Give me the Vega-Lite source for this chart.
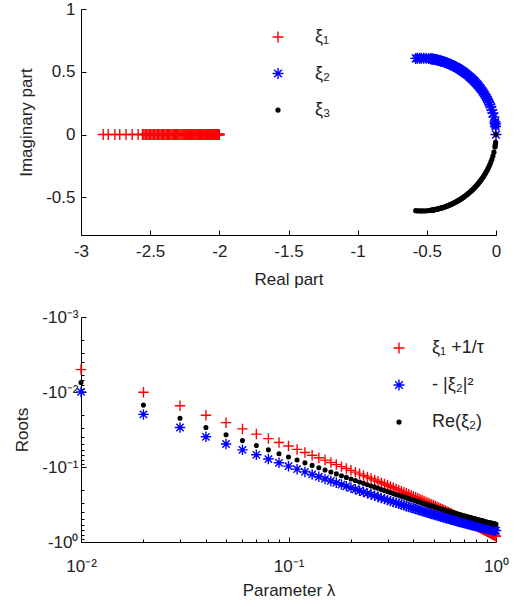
{
"$schema": "https://vega.github.io/schema/vega-lite/v6.json",
"background": "white",
"padding": {"left": 13, "right": 5, "top": 0, "bottom": 5},
"spacing": 21,
"resolve": {"scale": {"fill": "independent", "stroke": "independent", "shape": "independent"}},
"config": {
  "view": {"stroke": null},
  "font": "Liberation Sans",
  "axis": {"grid": false, "labelFlush": false, "domainColor": "#000000", "tickColor": "#000000", "labelColor": "#222222", "titleColor": "#222222", "labelFont": "Liberation Sans", "titleFont": "Liberation Sans", "labelFontSize": 17, "titleFontSize": 17, "titleFontWeight": "normal", "domainWidth": 1, "tickWidth": 1},
  "legend": {"labelFont": "Liberation Sans", "labelFontSize": 18, "labelColor": "#222222", "padding": 0, "symbolStrokeWidth": 1.4, "symbolSize": 121, "rowPadding": 18.5, "labelOffset": 28}
},
"vconcat": [
{
  "width": 415, "height": 226,
  "data": {"values": [
{"s":"ξ₁","x":-2,"y":0},{"s":"ξ₂","x":0,"y":0},{"s":"ξ₃","x":0,"y":0},
{"s":"ξ₁","x":-2.002,"y":0},{"s":"ξ₂","x":-0.003,"y":0.0631},{"s":"ξ₃","x":-0.003,"y":-0.0631},
{"s":"ξ₁","x":-2.003,"y":0},{"s":"ξ₂","x":-0.0045,"y":0.0773},{"s":"ξ₃","x":-0.0045,"y":-0.0773},
{"s":"ξ₁","x":-2.004,"y":0},{"s":"ξ₂","x":-0.006,"y":0.0892},{"s":"ξ₃","x":-0.006,"y":-0.0892},
{"s":"ξ₁","x":-2.005,"y":0},{"s":"ξ₂","x":-0.0075,"y":0.0996},{"s":"ξ₃","x":-0.0075,"y":-0.0996},
{"s":"ξ₁","x":-2.0101,"y":0},{"s":"ξ₂","x":-0.015,"y":0.1403},{"s":"ξ₃","x":-0.015,"y":-0.1403},
{"s":"ξ₁","x":-2.0152,"y":0},{"s":"ξ₂","x":-0.0224,"y":0.1711},{"s":"ξ₃","x":-0.0224,"y":-0.1711},
{"s":"ξ₁","x":-2.0204,"y":0},{"s":"ξ₂","x":-0.0298,"y":0.1967},{"s":"ξ₃","x":-0.0298,"y":-0.1967},
{"s":"ξ₁","x":-2.0256,"y":0},{"s":"ξ₂","x":-0.0372,"y":0.2191},{"s":"ξ₃","x":-0.0372,"y":-0.2191},
{"s":"ξ₁","x":-2.031,"y":0},{"s":"ξ₂","x":-0.0445,"y":0.239},{"s":"ξ₃","x":-0.0445,"y":-0.239},
{"s":"ξ₁","x":-2.0364,"y":0},{"s":"ξ₂","x":-0.0518,"y":0.257},{"s":"ξ₃","x":-0.0518,"y":-0.257},
{"s":"ξ₁","x":-2.0418,"y":0},{"s":"ξ₂","x":-0.0591,"y":0.2736},{"s":"ξ₃","x":-0.0591,"y":-0.2736},
{"s":"ξ₁","x":-2.0472,"y":0},{"s":"ξ₂","x":-0.0664,"y":0.289},{"s":"ξ₃","x":-0.0664,"y":-0.289},
{"s":"ξ₁","x":-2.0526,"y":0},{"s":"ξ₂","x":-0.0737,"y":0.3033},{"s":"ξ₃","x":-0.0737,"y":-0.3033},
{"s":"ξ₁","x":-2.0583,"y":0},{"s":"ξ₂","x":-0.0809,"y":0.3168},{"s":"ξ₃","x":-0.0809,"y":-0.3168},
{"s":"ξ₁","x":-2.0639,"y":0},{"s":"ξ₂","x":-0.088,"y":0.3294},{"s":"ξ₃","x":-0.088,"y":-0.3294},
{"s":"ξ₁","x":-2.0696,"y":0},{"s":"ξ₂","x":-0.0952,"y":0.3414},{"s":"ξ₃","x":-0.0952,"y":-0.3414},
{"s":"ξ₁","x":-2.0753,"y":0},{"s":"ξ₂","x":-0.1024,"y":0.3528},{"s":"ξ₃","x":-0.1024,"y":-0.3528},
{"s":"ξ₁","x":-2.081,"y":0},{"s":"ξ₂","x":-0.1095,"y":0.3636},{"s":"ξ₃","x":-0.1095,"y":-0.3636},
{"s":"ξ₁","x":-2.0869,"y":0},{"s":"ξ₂","x":-0.1165,"y":0.3738},{"s":"ξ₃","x":-0.1165,"y":-0.3738},
{"s":"ξ₁","x":-2.0929,"y":0},{"s":"ξ₂","x":-0.1236,"y":0.3837},{"s":"ξ₃","x":-0.1236,"y":-0.3837},
{"s":"ξ₁","x":-2.0988,"y":0},{"s":"ξ₂","x":-0.1306,"y":0.393},{"s":"ξ₃","x":-0.1306,"y":-0.393},
{"s":"ξ₁","x":-2.1048,"y":0},{"s":"ξ₂","x":-0.1376,"y":0.402},{"s":"ξ₃","x":-0.1376,"y":-0.402},
{"s":"ξ₁","x":-2.1108,"y":0},{"s":"ξ₂","x":-0.1446,"y":0.4106},{"s":"ξ₃","x":-0.1446,"y":-0.4106},
{"s":"ξ₁","x":-2.117,"y":0},{"s":"ξ₂","x":-0.1515,"y":0.4189},{"s":"ξ₃","x":-0.1515,"y":-0.4189},
{"s":"ξ₁","x":-2.1233,"y":0},{"s":"ξ₂","x":-0.1583,"y":0.4268},{"s":"ξ₃","x":-0.1583,"y":-0.4268},
{"s":"ξ₁","x":-2.1296,"y":0},{"s":"ξ₂","x":-0.1652,"y":0.4344},{"s":"ξ₃","x":-0.1652,"y":-0.4344},
{"s":"ξ₁","x":-2.1359,"y":0},{"s":"ξ₂","x":-0.1721,"y":0.4417},{"s":"ξ₃","x":-0.1721,"y":-0.4417},
{"s":"ξ₁","x":-2.1421,"y":0},{"s":"ξ₂","x":-0.1789,"y":0.4488},{"s":"ξ₃","x":-0.1789,"y":-0.4488},
{"s":"ξ₁","x":-2.1487,"y":0},{"s":"ξ₂","x":-0.1856,"y":0.4556},{"s":"ξ₃","x":-0.1856,"y":-0.4556},
{"s":"ξ₁","x":-2.1553,"y":0},{"s":"ξ₂","x":-0.1923,"y":0.4621},{"s":"ξ₃","x":-0.1923,"y":-0.4621},
{"s":"ξ₁","x":-2.1619,"y":0},{"s":"ξ₂","x":-0.199,"y":0.4684},{"s":"ξ₃","x":-0.199,"y":-0.4684},
{"s":"ξ₁","x":-2.1685,"y":0},{"s":"ξ₂","x":-0.2057,"y":0.4745},{"s":"ξ₃","x":-0.2057,"y":-0.4745},
{"s":"ξ₁","x":-2.1751,"y":0},{"s":"ξ₂","x":-0.2124,"y":0.4803},{"s":"ξ₃","x":-0.2124,"y":-0.4803},
{"s":"ξ₁","x":-2.1821,"y":0},{"s":"ξ₂","x":-0.219,"y":0.486},{"s":"ξ₃","x":-0.219,"y":-0.486},
{"s":"ξ₁","x":-2.189,"y":0},{"s":"ξ₂","x":-0.2255,"y":0.4915},{"s":"ξ₃","x":-0.2255,"y":-0.4915},
{"s":"ξ₁","x":-2.1959,"y":0},{"s":"ξ₂","x":-0.232,"y":0.4967},{"s":"ξ₃","x":-0.232,"y":-0.4967},
{"s":"ξ₁","x":-2.2029,"y":0},{"s":"ξ₂","x":-0.2386,"y":0.5018},{"s":"ξ₃","x":-0.2386,"y":-0.5018},
{"s":"ξ₁","x":-2.2098,"y":0},{"s":"ξ₂","x":-0.2451,"y":0.5067},{"s":"ξ₃","x":-0.2451,"y":-0.5067},
{"s":"ξ₁","x":-2.2171,"y":0},{"s":"ξ₂","x":-0.2515,"y":0.5114},{"s":"ξ₃","x":-0.2515,"y":-0.5114},
{"s":"ξ₁","x":-2.2244,"y":0},{"s":"ξ₂","x":-0.2578,"y":0.516},{"s":"ξ₃","x":-0.2578,"y":-0.516},
{"s":"ξ₁","x":-2.2317,"y":0},{"s":"ξ₂","x":-0.2642,"y":0.5204},{"s":"ξ₃","x":-0.2642,"y":-0.5204},
{"s":"ξ₁","x":-2.239,"y":0},{"s":"ξ₂","x":-0.2705,"y":0.5246},{"s":"ξ₃","x":-0.2705,"y":-0.5246},
{"s":"ξ₁","x":-2.2462,"y":0},{"s":"ξ₂","x":-0.2769,"y":0.5287},{"s":"ξ₃","x":-0.2769,"y":-0.5287},
{"s":"ξ₁","x":-2.2539,"y":0},{"s":"ξ₂","x":-0.2831,"y":0.5326},{"s":"ξ₃","x":-0.2831,"y":-0.5326},
{"s":"ξ₁","x":-2.2616,"y":0},{"s":"ξ₂","x":-0.2892,"y":0.5365},{"s":"ξ₃","x":-0.2892,"y":-0.5365},
{"s":"ξ₁","x":-2.2692,"y":0},{"s":"ξ₂","x":-0.2954,"y":0.5401},{"s":"ξ₃","x":-0.2954,"y":-0.5401},
{"s":"ξ₁","x":-2.2769,"y":0},{"s":"ξ₂","x":-0.3016,"y":0.5437},{"s":"ξ₃","x":-0.3016,"y":-0.5437},
{"s":"ξ₁","x":-2.2845,"y":0},{"s":"ξ₂","x":-0.3077,"y":0.547},{"s":"ξ₃","x":-0.3077,"y":-0.547},
{"s":"ξ₁","x":-2.2926,"y":0},{"s":"ξ₂","x":-0.3137,"y":0.5503},{"s":"ξ₃","x":-0.3137,"y":-0.5503},
{"s":"ξ₁","x":-2.3006,"y":0},{"s":"ξ₂","x":-0.3197,"y":0.5535},{"s":"ξ₃","x":-0.3197,"y":-0.5535},
{"s":"ξ₁","x":-2.3086,"y":0},{"s":"ξ₂","x":-0.3257,"y":0.5566},{"s":"ξ₃","x":-0.3257,"y":-0.5566},
{"s":"ξ₁","x":-2.3167,"y":0},{"s":"ξ₂","x":-0.3317,"y":0.5595},{"s":"ξ₃","x":-0.3317,"y":-0.5595},
{"s":"ξ₁","x":-2.3247,"y":0},{"s":"ξ₂","x":-0.3377,"y":0.5623},{"s":"ξ₃","x":-0.3377,"y":-0.5623},
{"s":"ξ₁","x":-2.3331,"y":0},{"s":"ξ₂","x":-0.3434,"y":0.565},{"s":"ξ₃","x":-0.3434,"y":-0.565},
{"s":"ξ₁","x":-2.3415,"y":0},{"s":"ξ₂","x":-0.3492,"y":0.5676},{"s":"ξ₃","x":-0.3492,"y":-0.5676},
{"s":"ξ₁","x":-2.35,"y":0},{"s":"ξ₂","x":-0.355,"y":0.5701},{"s":"ξ₃","x":-0.355,"y":-0.5701},
{"s":"ξ₁","x":-2.3584,"y":0},{"s":"ξ₂","x":-0.3608,"y":0.5725},{"s":"ξ₃","x":-0.3608,"y":-0.5725},
{"s":"ξ₁","x":-2.3668,"y":0},{"s":"ξ₂","x":-0.3666,"y":0.5748},{"s":"ξ₃","x":-0.3666,"y":-0.5748},
{"s":"ξ₁","x":-2.3757,"y":0},{"s":"ξ₂","x":-0.3722,"y":0.577},{"s":"ξ₃","x":-0.3722,"y":-0.577},
{"s":"ξ₁","x":-2.3845,"y":0},{"s":"ξ₂","x":-0.3778,"y":0.5791},{"s":"ξ₃","x":-0.3778,"y":-0.5791},
{"s":"ξ₁","x":-2.3933,"y":0},{"s":"ξ₂","x":-0.3834,"y":0.5812},{"s":"ξ₃","x":-0.3834,"y":-0.5812},
{"s":"ξ₁","x":-2.4021,"y":0},{"s":"ξ₂","x":-0.3889,"y":0.5831},{"s":"ξ₃","x":-0.3889,"y":-0.5831},
{"s":"ξ₁","x":-2.411,"y":0},{"s":"ξ₂","x":-0.3945,"y":0.5849},{"s":"ξ₃","x":-0.3945,"y":-0.5849},
{"s":"ξ₁","x":-2.4202,"y":0},{"s":"ξ₂","x":-0.3999,"y":0.5867},{"s":"ξ₃","x":-0.3999,"y":-0.5867},
{"s":"ξ₁","x":-2.4295,"y":0},{"s":"ξ₂","x":-0.4053,"y":0.5884},{"s":"ξ₃","x":-0.4053,"y":-0.5884},
{"s":"ξ₁","x":-2.4387,"y":0},{"s":"ξ₂","x":-0.4107,"y":0.5899},{"s":"ξ₃","x":-0.4107,"y":-0.5899},
{"s":"ξ₁","x":-2.4479,"y":0},{"s":"ξ₂","x":-0.416,"y":0.5915},{"s":"ξ₃","x":-0.416,"y":-0.5915},
{"s":"ξ₁","x":-2.4572,"y":0},{"s":"ξ₂","x":-0.4214,"y":0.5929},{"s":"ξ₃","x":-0.4214,"y":-0.5929},
{"s":"ξ₁","x":-2.4668,"y":0},{"s":"ξ₂","x":-0.4266,"y":0.5943},{"s":"ξ₃","x":-0.4266,"y":-0.5943},
{"s":"ξ₁","x":-2.4765,"y":0},{"s":"ξ₂","x":-0.4318,"y":0.5956},{"s":"ξ₃","x":-0.4318,"y":-0.5956},
{"s":"ξ₁","x":-2.4862,"y":0},{"s":"ξ₂","x":-0.4369,"y":0.5968},{"s":"ξ₃","x":-0.4369,"y":-0.5968},
{"s":"ξ₁","x":-2.4958,"y":0},{"s":"ξ₂","x":-0.4421,"y":0.5979},{"s":"ξ₃","x":-0.4421,"y":-0.5979},
{"s":"ξ₁","x":-2.5055,"y":0},{"s":"ξ₂","x":-0.4473,"y":0.5989},{"s":"ξ₃","x":-0.4473,"y":-0.5989},
{"s":"ξ₁","x":-2.5155,"y":0},{"s":"ξ₂","x":-0.4522,"y":0.6},{"s":"ξ₃","x":-0.4522,"y":-0.6},
{"s":"ξ₁","x":-2.5256,"y":0},{"s":"ξ₂","x":-0.4572,"y":0.6009},{"s":"ξ₃","x":-0.4572,"y":-0.6009},
{"s":"ξ₁","x":-2.5357,"y":0},{"s":"ξ₂","x":-0.4622,"y":0.6018},{"s":"ξ₃","x":-0.4622,"y":-0.6018},
{"s":"ξ₁","x":-2.5457,"y":0},{"s":"ξ₂","x":-0.4671,"y":0.6026},{"s":"ξ₃","x":-0.4671,"y":-0.6026},
{"s":"ξ₁","x":-2.5558,"y":0},{"s":"ξ₂","x":-0.4721,"y":0.6033},{"s":"ξ₃","x":-0.4721,"y":-0.6033},
{"s":"ξ₁","x":-2.5873,"y":0},{"s":"ξ₂","x":-0.4864,"y":0.6053},{"s":"ξ₃","x":-0.4864,"y":-0.6053},
{"s":"ξ₁","x":-2.6301,"y":0},{"s":"ξ₂","x":-0.5049,"y":0.6071},{"s":"ξ₃","x":-0.5049,"y":-0.6071},
{"s":"ξ₁","x":-2.6743,"y":0},{"s":"ξ₂","x":-0.5228,"y":0.6081},{"s":"ξ₃","x":-0.5228,"y":-0.6081},
{"s":"ξ₁","x":-2.7198,"y":0},{"s":"ξ₂","x":-0.5401,"y":0.6084},{"s":"ξ₃","x":-0.5401,"y":-0.6084},
{"s":"ξ₁","x":-2.7551,"y":0},{"s":"ξ₂","x":-0.5525,"y":0.6082},{"s":"ξ₃","x":-0.5525,"y":-0.6082},
{"s":"ξ₁","x":-2.803,"y":0},{"s":"ξ₂","x":-0.5685,"y":0.6074},{"s":"ξ₃","x":-0.5685,"y":-0.6074},
{"s":"ξ₁","x":-2.8395,"y":0},{"s":"ξ₂","x":-0.5803,"y":0.6064},{"s":"ξ₃","x":-0.5803,"y":-0.6064}
  ]},
  "mark": {"type": "point", "filled": true, "size": 121, "strokeWidth": 1.4, "opacity": 1},
  "encoding": {
    "x": {"field": "x", "type": "quantitative", "scale": {"domain": [-3, 0], "nice": false, "zero": false},
      "axis": {"title": "Real part", "values": [-3, -2.5, -2, -1.5, -1, -0.5, 0], "labelExpr": "'' + datum.value", "tickSize": -5, "labelPadding": 13, "titlePadding": 12}},
    "y": {"field": "y", "type": "quantitative", "scale": {"domain": [-0.8, 1], "nice": false, "zero": false},
      "axis": {"title": "Imaginary part", "values": [-0.5, 0, 0.5, 1], "labelExpr": "'' + datum.value", "tickSize": -5, "labelPadding": 11, "titlePadding": 10}},
    "fill": {"field": "s", "type": "nominal", "scale": {"domain": ["ξ₁", "ξ₂", "ξ₃"], "range": ["#ff0000", "#0000ff", "#000000"]},
      "legend": {"title": null, "orient": "none", "legendX": 188, "legendY": 19}},
    "stroke": {"field": "s", "type": "nominal", "scale": {"domain": ["ξ₁", "ξ₂", "ξ₃"], "range": ["#ff0000", "#0000ff", "#000000"]},
      "legend": {"title": null, "orient": "none", "legendX": 188, "legendY": 19}},
    "shape": {"field": "s", "type": "nominal", "scale": {"domain": ["ξ₁", "ξ₂", "ξ₃"], "range": ["M-1,0H1M0,-1V1", "M-1,0H1M0,-1V1M-0.7,-0.7L0.7,0.7M-0.7,0.7L0.7,-0.7", "M-0.35,0A0.35,0.35 0 1,0 0.35,0A0.35,0.35 0 1,0 -0.35,0Z"]},
      "legend": {"title": null, "orient": "none", "legendX": 188, "legendY": 19}}
  }
},
{
  "width": 415, "height": 225,
  "data": {"values": [
{"l":0.01,"a":-0.005025,"b":-0.009975,"c":-0.007488},
{"l":0.02,"a":-0.010099,"b":-0.0199,"c":-0.01495},
{"l":0.03,"a":-0.015222,"b":-0.029773,"c":-0.022389},
{"l":0.04,"a":-0.020395,"b":-0.039596,"c":-0.029802},
{"l":0.05,"a":-0.02564,"b":-0.049367,"c":-0.03718},
{"l":0.06,"a":-0.03103,"b":-0.059083,"c":-0.044485},
{"l":0.07,"a":-0.03642,"b":-0.068748,"c":-0.05179},
{"l":0.08,"a":-0.04182,"b":-0.078361,"c":-0.05909},
{"l":0.09,"a":-0.04721,"b":-0.087925,"c":-0.066395},
{"l":0.1,"a":-0.0526,"b":-0.097437,"c":-0.0737},
{"l":0.11,"a":-0.05827,"b":-0.106886,"c":-0.080865},
{"l":0.12,"a":-0.06394,"b":-0.116282,"c":-0.08803},
{"l":0.13,"a":-0.06961,"b":-0.125628,"c":-0.095195},
{"l":0.14,"a":-0.07528,"b":-0.134922,"c":-0.10236},
{"l":0.15,"a":-0.08095,"b":-0.144165,"c":-0.109525},
{"l":0.16,"a":-0.08691,"b":-0.153337,"c":-0.116545},
{"l":0.17,"a":-0.09288,"b":-0.162456,"c":-0.12356},
{"l":0.18,"a":-0.09884,"b":-0.171523,"c":-0.13058},
{"l":0.19,"a":-0.10481,"b":-0.180539,"c":-0.137595},
{"l":0.2,"a":-0.11077,"b":-0.189504,"c":-0.144615},
{"l":0.21,"a":-0.11704,"b":-0.19839,"c":-0.15148},
{"l":0.22,"a":-0.12332,"b":-0.207223,"c":-0.15834},
{"l":0.23,"a":-0.12959,"b":-0.216004,"c":-0.165205},
{"l":0.24,"a":-0.13587,"b":-0.224733,"c":-0.172065},
{"l":0.25,"a":-0.14214,"b":-0.233412,"c":-0.17893},
{"l":0.26,"a":-0.14874,"b":-0.242002,"c":-0.18563},
{"l":0.27,"a":-0.15533,"b":-0.250542,"c":-0.192335},
{"l":0.28,"a":-0.16193,"b":-0.259028,"c":-0.199035},
{"l":0.29,"a":-0.16852,"b":-0.267463,"c":-0.20574},
{"l":0.3,"a":-0.17512,"b":-0.275847,"c":-0.21244},
{"l":0.31,"a":-0.18206,"b":-0.284135,"c":-0.21897},
{"l":0.32,"a":-0.18899,"b":-0.292372,"c":-0.225505},
{"l":0.33,"a":-0.19593,"b":-0.300556,"c":-0.232035},
{"l":0.34,"a":-0.20286,"b":-0.30869,"c":-0.23857},
{"l":0.35,"a":-0.2098,"b":-0.316771,"c":-0.2451},
{"l":0.36,"a":-0.21709,"b":-0.32475,"c":-0.251455},
{"l":0.37,"a":-0.22438,"b":-0.332677,"c":-0.25781},
{"l":0.38,"a":-0.23166,"b":-0.340554,"c":-0.26417},
{"l":0.39,"a":-0.23895,"b":-0.348378,"c":-0.270525},
{"l":0.4,"a":-0.24624,"b":-0.356151,"c":-0.27688},
{"l":0.41,"a":-0.25389,"b":-0.363815,"c":-0.283055},
{"l":0.42,"a":-0.26155,"b":-0.37143,"c":-0.289225},
{"l":0.43,"a":-0.2692,"b":-0.378988,"c":-0.2954},
{"l":0.44,"a":-0.27686,"b":-0.386497,"c":-0.30157},
{"l":0.45,"a":-0.28451,"b":-0.393957,"c":-0.307745},
{"l":0.46,"a":-0.29255,"b":-0.4013,"c":-0.313725},
{"l":0.47,"a":-0.30058,"b":-0.408593,"c":-0.31971},
{"l":0.48,"a":-0.30862,"b":-0.415833,"c":-0.32569},
{"l":0.49,"a":-0.31665,"b":-0.423024,"c":-0.331675},
{"l":0.5,"a":-0.32469,"b":-0.430165,"c":-0.337655},
{"l":0.51,"a":-0.33312,"b":-0.437182,"c":-0.34344},
{"l":0.52,"a":-0.34154,"b":-0.444152,"c":-0.34923},
{"l":0.53,"a":-0.34997,"b":-0.45107,"c":-0.355015},
{"l":0.54,"a":-0.35839,"b":-0.45794,"c":-0.360805},
{"l":0.55,"a":-0.36682,"b":-0.464759,"c":-0.36659},
{"l":0.56,"a":-0.37565,"b":-0.471452,"c":-0.372175},
{"l":0.57,"a":-0.38447,"b":-0.478094,"c":-0.377765},
{"l":0.58,"a":-0.3933,"b":-0.484686,"c":-0.38335},
{"l":0.59,"a":-0.40212,"b":-0.491232,"c":-0.38894},
{"l":0.6,"a":-0.41095,"b":-0.497729,"c":-0.394525},
{"l":0.61,"a":-0.4202,"b":-0.50409,"c":-0.3999},
{"l":0.62,"a":-0.42945,"b":-0.510404,"c":-0.405275},
{"l":0.63,"a":-0.43869,"b":-0.516671,"c":-0.410655},
{"l":0.64,"a":-0.44794,"b":-0.522888,"c":-0.41603},
{"l":0.65,"a":-0.45719,"b":-0.52906,"c":-0.421405},
{"l":0.66,"a":-0.46684,"b":-0.535098,"c":-0.42658},
{"l":0.67,"a":-0.47649,"b":-0.541088,"c":-0.431755},
{"l":0.68,"a":-0.48615,"b":-0.547031,"c":-0.436925},
{"l":0.69,"a":-0.4958,"b":-0.552929,"c":-0.4421},
{"l":0.7,"a":-0.50545,"b":-0.558782,"c":-0.447275},
{"l":0.71,"a":-0.51552,"b":-0.564496,"c":-0.45224},
{"l":0.72,"a":-0.52559,"b":-0.570164,"c":-0.457205},
{"l":0.73,"a":-0.53566,"b":-0.575787,"c":-0.46217},
{"l":0.74,"a":-0.54573,"b":-0.581366,"c":-0.467135},
{"l":0.75,"a":-0.5558,"b":-0.5869,"c":-0.4721},
{"l":0.76,"a":-0.56629,"b":-0.592295,"c":-0.476855},
{"l":0.77,"a":-0.57678,"b":-0.597645,"c":-0.48161},
{"l":0.78,"a":-0.58726,"b":-0.602954,"c":-0.48637},
{"l":0.79,"a":-0.59775,"b":-0.608219,"c":-0.491125},
{"l":0.8,"a":-0.60824,"b":-0.61344,"c":-0.49588},
{"l":0.81,"a":-0.61919,"b":-0.618512,"c":-0.500405},
{"l":0.82,"a":-0.63013,"b":-0.623543,"c":-0.504935},
{"l":0.83,"a":-0.64108,"b":-0.628531,"c":-0.50946},
{"l":0.84,"a":-0.65202,"b":-0.633479,"c":-0.51399},
{"l":0.85,"a":-0.66297,"b":-0.638385,"c":-0.518515},
{"l":0.86,"a":-0.67433,"b":-0.643152,"c":-0.522835},
{"l":0.87,"a":-0.68569,"b":-0.647878,"c":-0.527155},
{"l":0.88,"a":-0.69705,"b":-0.652565,"c":-0.531475},
{"l":0.89,"a":-0.70841,"b":-0.657212,"c":-0.535795},
{"l":0.9,"a":-0.71977,"b":-0.66182,"c":-0.540115},
{"l":0.91,"a":-0.73154,"b":-0.666291,"c":-0.54423},
{"l":0.92,"a":-0.74331,"b":-0.670723,"c":-0.548345},
{"l":0.93,"a":-0.75509,"b":-0.675114,"c":-0.552455},
{"l":0.94,"a":-0.76686,"b":-0.679471,"c":-0.55657},
{"l":0.95,"a":-0.77863,"b":-0.68379,"c":-0.560685},
{"l":0.96,"a":-0.7908,"b":-0.687975,"c":-0.5646},
{"l":0.97,"a":-0.80298,"b":-0.69212,"c":-0.56851},
{"l":0.98,"a":-0.81515,"b":-0.696233,"c":-0.572425},
{"l":0.99,"a":-0.82733,"b":-0.700308,"c":-0.576335},
{"l":1,"a":-0.8395,"b":-0.70435,"c":-0.58025}
  ]},
  "transform": [{"fold": ["a", "b", "c"], "as": ["k", "v"]}],
  "mark": {"type": "point", "filled": true, "size": 110, "strokeWidth": 1.4, "opacity": 1, "invalid": "show"},
  "encoding": {
    "x": {"field": "l", "type": "quantitative", "scale": {"type": "log", "domain": [0.01, 1], "nice": false},
      "axis": {"title": "Parameter λ", "values": [0.01,0.02,0.03,0.04,0.05,0.06,0.07,0.08,0.09,0.1,0.2,0.3,0.4,0.5,0.6,0.7,0.8,0.9,1],
        "labelExpr": "datum.value == 0.01 ? '10⁻²' : datum.value == 0.1 ? '10⁻¹' : datum.value == 1 ? '10⁰' : ''",
        "tickSize": {"condition": {"test": "datum.value == 0.01 || datum.value == 0.1 || datum.value == 1", "value": -5}, "value": -3},
        "labelPadding": 21, "titlePadding": 8}},
    "y": {"field": "v", "type": "quantitative", "scale": {"type": "log", "domain": [-1, -0.001], "nice": false},
      "axis": {"title": "Roots", "values": [-1,-0.9,-0.8,-0.7,-0.6,-0.5,-0.4,-0.3,-0.2,-0.1,-0.09,-0.08,-0.07,-0.06,-0.05,-0.04,-0.03,-0.02,-0.01,-0.009,-0.008,-0.007,-0.006,-0.005,-0.004,-0.003,-0.002,-0.001],
        "labelExpr": "datum.value == -0.001 ? '-10⁻³' : datum.value == -0.01 ? '-10⁻²' : datum.value == -0.1 ? '-10⁻¹' : datum.value == -1 ? '-10⁰' : ''",
        "tickSize": {"condition": {"test": "datum.value == -0.001 || datum.value == -0.01 || datum.value == -0.1 || datum.value == -1", "value": -5}, "value": -3},
        "labelPadding": 8, "titlePadding": 10}},
    "order": {"field": "k"},
    "fill": {"field": "k", "type": "nominal", "scale": {"domain": ["a", "b", "c"], "range": ["#ff0000", "#0000ff", "#000000"]},
      "legend": {"title": null, "orient": "none", "legendX": 309, "legendY": 22, "rowPadding": 19, "labelOffset": 24, "labelExpr": "datum.label == 'a' ? 'ξ₁ +1/τ' : datum.label == 'b' ? '- |ξ₂|²' : 'Re(ξ₂)'"}},
    "stroke": {"field": "k", "type": "nominal", "scale": {"domain": ["a", "b", "c"], "range": ["#ff0000", "#0000ff", "#000000"]},
      "legend": {"title": null, "orient": "none", "legendX": 309, "legendY": 22, "rowPadding": 19, "labelOffset": 24, "labelExpr": "datum.label == 'a' ? 'ξ₁ +1/τ' : datum.label == 'b' ? '- |ξ₂|²' : 'Re(ξ₂)'"}},
    "shape": {"field": "k", "type": "nominal", "scale": {"domain": ["a", "b", "c"], "range": ["M-1,0H1M0,-1V1", "M-1,0H1M0,-1V1M-0.7,-0.7L0.7,0.7M-0.7,0.7L0.7,-0.7", "M-0.35,0A0.35,0.35 0 1,0 0.35,0A0.35,0.35 0 1,0 -0.35,0Z"]},
      "legend": {"title": null, "orient": "none", "legendX": 309, "legendY": 22, "rowPadding": 19, "labelOffset": 24, "labelExpr": "datum.label == 'a' ? 'ξ₁ +1/τ' : datum.label == 'b' ? '- |ξ₂|²' : 'Re(ξ₂)'"}}
  }
}
]
}
